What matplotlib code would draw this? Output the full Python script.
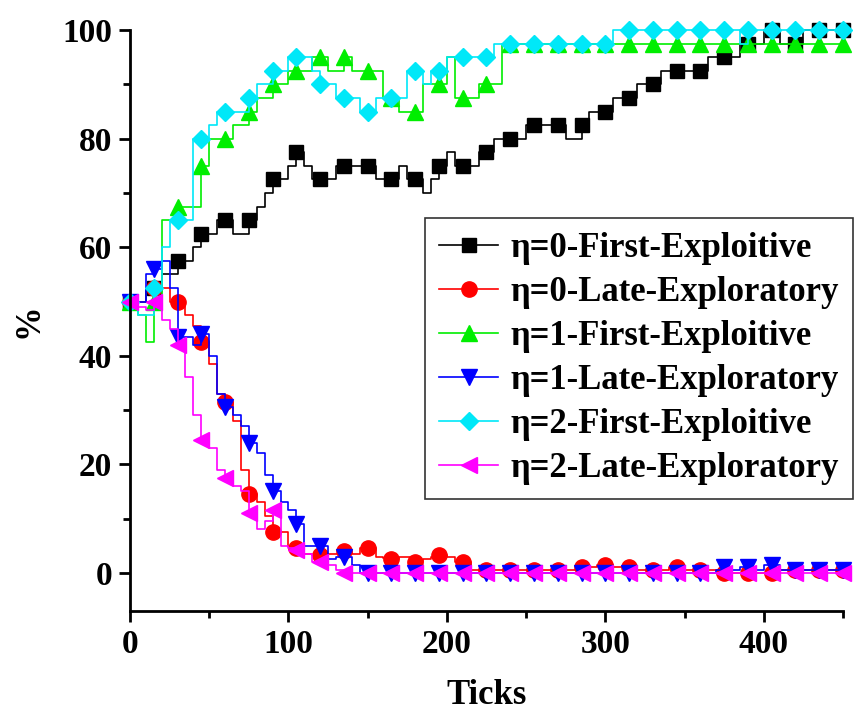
import numpy as np
import matplotlib.pyplot as plt
from matplotlib.ticker import MultipleLocator

plt.rcParams['font.family'] = ['Liberation Serif', 'DejaVu Serif']
plt.rcParams['font.weight'] = 'bold'

# sampled every 5 ticks, markers every 15 ticks
ticks = np.arange(0, 451, 5)

eta0_first = [50, 50, 52.5, 52.5, 55, 55, 57.5, 57.5, 60, 62.5,
              62.5, 65, 65, 62.5, 62.5, 65, 67.5, 70, 72.5, 72.5,
              75, 77.5, 75, 72.5, 72.5, 72.5, 75, 75, 75, 75,
              75, 72.5, 72.5, 72.5, 75, 72.5, 72.5, 70, 72.5, 75,
              77.5, 75, 75, 75, 77.5, 77.5, 80, 80, 80, 80,
              82.5, 82.5, 82.5, 82.5, 82.5, 80, 80, 82.5, 85, 85,
              85, 87.5, 87.5, 87.5, 90, 90, 90, 92.5, 92.5, 92.5,
              92.5, 92.5, 92.5, 95, 95, 95, 95, 97.5, 97.5, 97.5,
              100, 100, 97.5, 97.5, 97.5, 100, 100, 100, 100, 100,
              100]
eta0_late = [50, 50, 50, 52.5, 52.5, 50, 50, 47.5, 45.5, 42.5,
             38.5, 33, 31.5, 28, 19, 14.5, 13, 10.5, 7.5, 7.5,
             5, 4.5, 3.5, 3.3, 3.3, 3.5, 3.5, 4, 3.5, 4.5,
             4.5, 3, 2.7, 2.5, 3, 3, 2, 2.5, 3, 3.3,
             3, 2, 2, 0.5, 0.5, 0.5, 0.5, 0.5, 0.5, 0.5,
             0.5, 0.5, 0.5, 0.5, 0.5, 0.5, 0.5, 1, 1, 1.5,
             1.5, 1, 1, 1, 0.5, 0.5, 0.5, 0.5, 1, 1,
             0.5, 0.5, 0.5, 0.5, 0.5, 0, 0, 0, 0, 0,
             0, 0, 0.5, 0.5, 0.5, 0.5, 0.5, 0.5, 0.5, 0.5,
             0.5]
eta1_first = [50, 47.5, 42.5, 50, 65, 65, 67.5, 67.5, 67.5, 75,
              80, 80, 80, 82.5, 82.5, 85, 87.5, 87.5, 90, 90,
              92.5, 92.5, 92.5, 95, 95, 92.5, 92.5, 95, 92.5, 92.5,
              92.5, 92.5, 87.5, 87.5, 85, 85, 85, 90, 90, 90,
              95, 87.5, 87.5, 87.5, 90, 90, 90, 97.5, 97.5, 97.5,
              97.5, 97.5, 97.5, 97.5, 97.5, 97.5, 97.5, 97.5, 97.5, 97.5,
              97.5, 97.5, 97.5, 97.5, 97.5, 97.5, 97.5, 97.5, 97.5, 97.5,
              97.5, 97.5, 97.5, 97.5, 97.5, 97.5, 97.5, 97.5, 97.5, 97.5,
              97.5, 97.5, 97.5, 97.5, 97.5, 97.5, 97.5, 97.5, 97.5, 97.5,
              97.5]
eta1_late = [50, 50, 55, 56, 57.5, 52.5, 43.5, 43.5, 42, 44,
             40, 33, 30.5, 29, 27, 24, 22, 18, 15, 13,
             11.5, 9, 5, 5, 5, 2.5, 3, 3, 1.5, 0,
             0, 0, 0, 0, 0, 0, 0, 0, 0, 0,
             0, 0, 0, 0, 0, 0, 0, 0, 0, 0,
             0, 0, 0, 0, 0, 0, 0, 0, 0, 0,
             0, 0, 0, 0, 0, 0, 0, 0, 0, 0,
             0, 0, 0, 0, 0.5, 1, 0.5, 1, 1, 0.5,
             1.5, 1.5, 0.5, 0.5, 0.5, 0.5, 0.5, 0.5, 0.5, 0.5,
             0.5]
eta2_first = [50, 47.5, 47.5, 52.5, 60, 65, 65, 65, 80, 80,
              82.5, 85, 85, 85, 85, 87.5, 90, 90, 92.5, 92.5,
              95, 95, 95, 92.5, 90, 90, 87.5, 87.5, 87.5, 85,
              85, 87.5, 87.5, 87.5, 87.5, 92.5, 92.5, 90, 92.5, 92.5,
              95, 95, 95, 95, 95, 95, 97.5, 97.5, 97.5, 97.5,
              97.5, 97.5, 97.5, 97.5, 97.5, 97.5, 97.5, 97.5, 97.5, 97.5,
              97.5, 100, 100, 100, 100, 100, 100, 100, 100, 100,
              100, 100, 100, 100, 100, 100, 100, 97.5, 100, 100,
              100, 100, 100, 100, 100, 100, 100, 100, 100, 100,
              100]
eta2_late = [50, 49, 48.5, 50, 46.5, 45, 42, 36, 29, 24.5,
             23, 19, 17.5, 16, 15, 11, 8, 9.5, 11.5, 5,
             4.5, 4.2, 3.5, 2, 2, 1.5, 0.5, 0, 0, 0,
             0, 0, 0, 0, 0, 0, 0, 0, 0, 0,
             0, 0, 0, 0, 0, 0, 0, 0, 0, 0,
             0, 0, 0, 0, 0, 0, 0, 0, 0, 0,
             0, 0, 0, 0, 0, 0, 0, 0, 0, 0,
             0, 0, 0, 0, 0, 0, 0, 0, 0, 0,
             0, 0, 0, 0, 0, 0, 0, 0, 0, 0,
             0]

series = [
    ('η=0-First-Exploitive', eta0_first, 'black', 's', 10),
    ('η=0-Late-Exploratory', eta0_late, 'red', 'o', 11),
    ('η=1-First-Exploitive', eta1_first, '#00ee00', '^', 12),
    ('η=1-Late-Exploratory', eta1_late, 'blue', 'v', 12),
    ('η=2-First-Exploitive', eta2_first, '#00e8f8', 'D', 9.5),
    ('η=2-Late-Exploratory', eta2_late, '#ff00ff', '<', 12),
]

fig = plt.figure(figsize=(8.58, 7.17), dpi=100)
ax = fig.add_axes([0.1515, 0.148, 0.831, 0.81])

for label, vals, color, marker, ms in series:
    ax.plot(ticks, vals, drawstyle='steps-post', color=color, lw=1.2,
            marker=marker, markersize=ms, markevery=3, label=label,
            clip_on=False)

ax.set_xlim(0, 450)
ax.set_ylim(-7, 100)
ax.xaxis.set_major_locator(MultipleLocator(100))
ax.xaxis.set_minor_locator(MultipleLocator(50))
ax.yaxis.set_major_locator(MultipleLocator(20))
ax.yaxis.set_minor_locator(MultipleLocator(10))
ax.spines['top'].set_visible(False)
ax.spines['right'].set_visible(False)
ax.spines['left'].set_linewidth(2)
ax.spines['bottom'].set_linewidth(2)
ax.tick_params(which='major', direction='out', length=8, width=2,
               labelsize=24, pad=5)
ax.tick_params(which='minor', direction='out', length=5, width=2)
for t in ax.get_xticklabels() + ax.get_yticklabels():
    t.set_fontweight('bold')

ax.set_xlabel('Ticks', fontsize=25, fontweight='bold', labelpad=14)
ax.set_ylabel('%', fontsize=25, fontweight='bold', labelpad=12)

leg = ax.legend(loc='upper right', bbox_to_anchor=(0.994, 0.696),
                bbox_transform=fig.transFigure, fontsize=25,
                frameon=True, fancybox=False, edgecolor='black',
                handlelength=1.7, handletextpad=0.35, labelspacing=0.32,
                borderpad=0.4, borderaxespad=0)
leg.get_frame().set_linewidth(1.2)
for t in leg.get_texts():
    t.set_fontweight('bold')

fig.savefig('out.png', dpi=100)
